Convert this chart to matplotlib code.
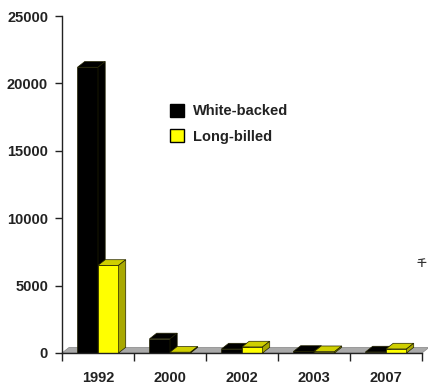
import numpy as np
import matplotlib.pyplot as plt
from matplotlib.patches import Polygon, Patch

years = ['1992', '2000', '2002', '2003', '2007']
white_backed = [21200, 1050, 300, 120, 80]
long_billed = [6500, 60, 450, 100, 300]

plt.rcParams['font.family'] = ['Liberation Sans', 'DejaVu Sans']
plt.rcParams['font.weight'] = 'bold'

fig = plt.figure(figsize=(4.28, 3.85), dpi=100)
ax = fig.add_axes([62/428, 32/385, 360/428, 337/385])
ax.set_xlim(-0.5, 4.5)
ax.set_ylim(0, 25000)

# fake depth for the 3d look
dx, dy = 0.1, 420
w = 0.285
edge = '#222200'


def bar3d(x0, v, front, top, side, z):
    ax.bar(x0, v, w, align='edge', color=front, edgecolor=edge, lw=0.5, zorder=z)
    ax.add_patch(Polygon([(x0, v), (x0 + w, v), (x0 + w + dx, v + dy), (x0 + dx, v + dy)],
                         fc=top, ec=edge, lw=0.5, zorder=z))
    ax.add_patch(Polygon([(x0 + w, 0), (x0 + w + dx, dy), (x0 + w + dx, v + dy), (x0 + w, v)],
                         fc=side, ec=edge, lw=0.5, zorder=z))


# floor
ax.add_patch(Polygon([(-0.5, 0), (4.5, 0), (4.5 + dx, dy), (-0.5 + dx, dy)],
                     fc='#a9a9a9', ec='#888888', lw=0.5, zorder=1, clip_on=False))

x = np.arange(len(years))
for i in x:
    bar3d(i - w, white_backed[i], 'black', 'black', 'black', 3)
    bar3d(i, long_billed[i], '#ffff00', '#cfcf00', '#a8a800', 4)

for s in ['top', 'right']:
    ax.spines[s].set_visible(False)
for s in ['left', 'bottom']:
    ax.spines[s].set_color('#222222')
    ax.spines[s].set_linewidth(1)
    ax.spines[s].set_zorder(6)

ax.set_yticks(np.arange(0, 25001, 5000))
ax.tick_params(axis='y', direction='out', length=5, width=1, pad=5,
               labelsize=10.5, colors='#222222')
ax.set_xticks(np.arange(-0.5, 5, 1))
ax.set_xticklabels([])
ax.set_xticks(x, minor=True)
ax.set_xticklabels(years, minor=True)
ax.tick_params(axis='x', which='major', direction='out', length=6, width=1, colors='#222222')
ax.tick_params(axis='x', which='minor', length=0, pad=13, labelsize=10.5, labelcolor='#222222')

ax.legend(handles=[Patch(fc='black', ec='black'), Patch(fc='#ffff00', ec='black')],
          labels=['White-backed', 'Long-billed'],
          loc='upper left', bbox_to_anchor=(170/428, 1 - 104/385), bbox_transform=fig.transFigure,
          frameon=False, borderpad=0, borderaxespad=0, handlelength=0.95, handleheight=0.95,
          handletextpad=0.6, labelspacing=0.75, prop=dict(weight='bold', size=10.5),
          labelcolor='#222222')

fig.text(426/428, 1 - 263/385, '千', family=['Noto Sans CJK SC', 'DejaVu Sans'],
         fontsize=7, color='#333333', ha='right', va='center')

fig.savefig('out.png', dpi=100)
